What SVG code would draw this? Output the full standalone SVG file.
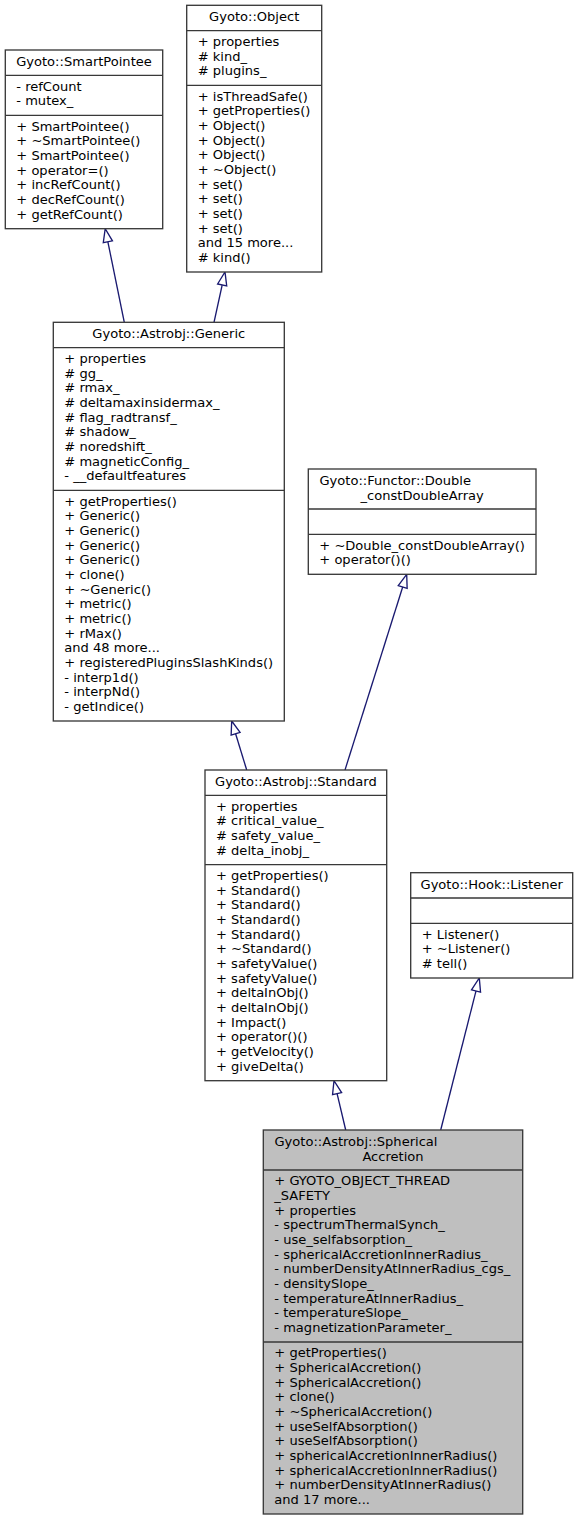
<svg xmlns="http://www.w3.org/2000/svg" width="579" height="1520" viewBox="0 0 579 1520">
<style>
text{font-family:"DejaVu Sans","Liberation Sans",sans-serif;font-size:13.05px;fill:#000}
.t{text-anchor:middle}
.box{fill:#fff;stroke:#383838;stroke-width:1.33}
.main{fill:#bfbfbf;stroke:#383838;stroke-width:1.33}
.sep{stroke:#383838;stroke-width:1.33;fill:none}
.edge{stroke:#191970;stroke-width:1.33;fill:none;marker-end:url(#arr)}
</style>
<defs>
<marker id="arr" markerUnits="userSpaceOnUse" markerWidth="18" markerHeight="14" refX="1" refY="6" orient="auto" overflow="visible">
<path d="M1,1.33 L14.33,6 L1,10.67 Z" fill="#fff" stroke="#191970" stroke-width="1.33"/>
</marker>
</defs>
<rect width="579" height="1520" fill="#fff"/>
<g id="connectors">
<line class="edge" x1="124.3" y1="322.3" x2="107.87" y2="241.77"/>
<line class="edge" x1="214" y1="322.3" x2="222.15" y2="285.02"/>
<line class="edge" x1="246.7" y1="770" x2="235.6" y2="733.75"/>
<line class="edge" x1="345" y1="770" x2="402.69" y2="587.01"/>
<line class="edge" x1="345.7" y1="1130" x2="337.08" y2="1093.67"/>
<line class="edge" x1="440.7" y1="1130" x2="476.02" y2="990.92"/>
</g>
<g id="node-smartpointee">
<rect class="box" x="5.3" y="50" width="157.4" height="178.7"/>
<path class="sep" d="M5.3,75.3H162.7M5.3,115.3H162.7"/>
<text class="t" x="84" y="66">Gyoto::SmartPointee</text>
<text x="16.3" y="90.8"><tspan x="16.3">- refCount</tspan><tspan x="16.3" dy="14.67">- mutex_</tspan></text>
<text x="16.3" y="130.8"><tspan x="16.3">+ SmartPointee()</tspan><tspan x="16.3" dy="14.67">+ ~SmartPointee()</tspan><tspan x="16.3" dy="14.67">+ SmartPointee()</tspan><tspan x="16.3" dy="14.67">+ operator=()</tspan><tspan x="16.3" dy="14.67">+ incRefCount()</tspan><tspan x="16.3" dy="14.67">+ decRefCount()</tspan><tspan x="16.3" dy="14.67">+ getRefCount()</tspan></text>
</g>
<g id="node-object">
<rect class="box" x="186.7" y="5.3" width="135" height="266.7"/>
<path class="sep" d="M186.7,30.7H321.7M186.7,85.3H321.7"/>
<text class="t" x="254.2" y="21.3">Gyoto::Object</text>
<text x="197.7" y="46"><tspan x="197.7">+ properties</tspan><tspan x="197.7" dy="14.67"># kind_</tspan><tspan x="197.7" dy="14.67"># plugins_</tspan></text>
<text x="197.7" y="100.6"><tspan x="197.7">+ isThreadSafe()</tspan><tspan x="197.7" dy="14.67">+ getProperties()</tspan><tspan x="197.7" dy="14.67">+ Object()</tspan><tspan x="197.7" dy="14.67">+ Object()</tspan><tspan x="197.7" dy="14.67">+ Object()</tspan><tspan x="197.7" dy="14.67">+ ~Object()</tspan><tspan x="197.7" dy="14.67">+ set()</tspan><tspan x="197.7" dy="14.67">+ set()</tspan><tspan x="197.7" dy="14.67">+ set()</tspan><tspan x="197.7" dy="14.67">+ set()</tspan><tspan x="197.7" dy="14.67">and 15 more...</tspan><tspan x="197.7" dy="14.67"># kind()</tspan></text>
</g>
<g id="node-generic">
<rect class="box" x="53.3" y="322.3" width="231" height="398.7"/>
<path class="sep" d="M53.3,347.7H284.3M53.3,490.3H284.3"/>
<text class="t" x="168.8" y="338.3">Gyoto::Astrobj::Generic</text>
<text x="64.3" y="363"><tspan x="64.3">+ properties</tspan><tspan x="64.3" dy="14.67"># gg_</tspan><tspan x="64.3" dy="14.67"># rmax_</tspan><tspan x="64.3" dy="14.67"># deltamaxinsidermax_</tspan><tspan x="64.3" dy="14.67"># flag_radtransf_</tspan><tspan x="64.3" dy="14.67"># shadow_</tspan><tspan x="64.3" dy="14.67"># noredshift_</tspan><tspan x="64.3" dy="14.67"># magneticConfig_</tspan><tspan x="64.3" dy="14.67">- __defaultfeatures</tspan></text>
<text x="64.3" y="505.6"><tspan x="64.3">+ getProperties()</tspan><tspan x="64.3" dy="14.67">+ Generic()</tspan><tspan x="64.3" dy="14.67">+ Generic()</tspan><tspan x="64.3" dy="14.67">+ Generic()</tspan><tspan x="64.3" dy="14.67">+ Generic()</tspan><tspan x="64.3" dy="14.67">+ clone()</tspan><tspan x="64.3" dy="14.67">+ ~Generic()</tspan><tspan x="64.3" dy="14.67">+ metric()</tspan><tspan x="64.3" dy="14.67">+ metric()</tspan><tspan x="64.3" dy="14.67">+ rMax()</tspan><tspan x="64.3" dy="14.67">and 48 more...</tspan><tspan x="64.3" dy="14.67">+ registeredPluginsSlashKinds()</tspan><tspan x="64.3" dy="14.67">- interp1d()</tspan><tspan x="64.3" dy="14.67">- interpNd()</tspan><tspan x="64.3" dy="14.67">- getIndice()</tspan></text>
</g>
<g id="node-functor">
<rect class="box" x="308.3" y="469" width="227.7" height="105.3"/>
<path class="sep" d="M308.3,509H536M308.3,534.3H536"/>
<text x="319.5" y="485">Gyoto::Functor::Double</text>
<text class="t" x="422.2" y="499.7">_constDoubleArray</text>
<text x="319.3" y="549.6"><tspan x="319.3">+ ~Double_constDoubleArray()</tspan><tspan x="319.3" dy="14.67">+ operator()()</tspan></text>
</g>
<g id="node-standard">
<rect class="box" x="205" y="770" width="181.7" height="310.7"/>
<path class="sep" d="M205,795.3H386.7M205,864.7H386.7"/>
<text class="t" x="295.85" y="786">Gyoto::Astrobj::Standard</text>
<text x="216" y="810.6"><tspan x="216">+ properties</tspan><tspan x="216" dy="14.67"># critical_value_</tspan><tspan x="216" dy="14.67"># safety_value_</tspan><tspan x="216" dy="14.67"># delta_inobj_</tspan></text>
<text x="216" y="880"><tspan x="216">+ getProperties()</tspan><tspan x="216" dy="14.67">+ Standard()</tspan><tspan x="216" dy="14.67">+ Standard()</tspan><tspan x="216" dy="14.67">+ Standard()</tspan><tspan x="216" dy="14.67">+ Standard()</tspan><tspan x="216" dy="14.67">+ ~Standard()</tspan><tspan x="216" dy="14.67">+ safetyValue()</tspan><tspan x="216" dy="14.67">+ safetyValue()</tspan><tspan x="216" dy="14.67">+ deltaInObj()</tspan><tspan x="216" dy="14.67">+ deltaInObj()</tspan><tspan x="216" dy="14.67">+ Impact()</tspan><tspan x="216" dy="14.67">+ operator()()</tspan><tspan x="216" dy="14.67">+ getVelocity()</tspan><tspan x="216" dy="14.67">+ giveDelta()</tspan></text>
</g>
<g id="node-listener">
<rect class="box" x="410.7" y="872.7" width="162" height="105.3"/>
<path class="sep" d="M410.7,898H572.7M410.7,923.3H572.7"/>
<text class="t" x="491.7" y="888.7">Gyoto::Hook::Listener</text>
<text x="421.7" y="938.6"><tspan x="421.7">+ Listener()</tspan><tspan x="421.7" dy="14.67">+ ~Listener()</tspan><tspan x="421.7" dy="14.67"># tell()</tspan></text>
</g>
<g id="node-sphericalaccretion">
<rect class="main" x="263.3" y="1130" width="259.4" height="384"/>
<path class="sep" d="M263.3,1170H522.7M263.3,1342H522.7"/>
<text x="274.5" y="1146">Gyoto::Astrobj::Spherical</text>
<text class="t" x="393" y="1160.7">Accretion</text>
<text x="274.3" y="1185.3"><tspan x="274.3">+ GYOTO_OBJECT_THREAD</tspan><tspan x="274.3" dy="14.67">_SAFETY</tspan><tspan x="274.3" dy="14.67">+ properties</tspan><tspan x="274.3" dy="14.67">- spectrumThermalSynch_</tspan><tspan x="274.3" dy="14.67">- use_selfabsorption_</tspan><tspan x="274.3" dy="14.67">- sphericalAccretionInnerRadius_</tspan><tspan x="274.3" dy="14.67">- numberDensityAtInnerRadius_cgs_</tspan><tspan x="274.3" dy="14.67">- densitySlope_</tspan><tspan x="274.3" dy="14.67">- temperatureAtInnerRadius_</tspan><tspan x="274.3" dy="14.67">- temperatureSlope_</tspan><tspan x="274.3" dy="14.67">- magnetizationParameter_</tspan></text>
<text x="274.3" y="1357.3"><tspan x="274.3">+ getProperties()</tspan><tspan x="274.3" dy="14.67">+ SphericalAccretion()</tspan><tspan x="274.3" dy="14.67">+ SphericalAccretion()</tspan><tspan x="274.3" dy="14.67">+ clone()</tspan><tspan x="274.3" dy="14.67">+ ~SphericalAccretion()</tspan><tspan x="274.3" dy="14.67">+ useSelfAbsorption()</tspan><tspan x="274.3" dy="14.67">+ useSelfAbsorption()</tspan><tspan x="274.3" dy="14.67">+ sphericalAccretionInnerRadius()</tspan><tspan x="274.3" dy="14.67">+ sphericalAccretionInnerRadius()</tspan><tspan x="274.3" dy="14.67">+ numberDensityAtInnerRadius()</tspan><tspan x="274.3" dy="14.67">and 17 more...</tspan></text>
</g>
</svg>
